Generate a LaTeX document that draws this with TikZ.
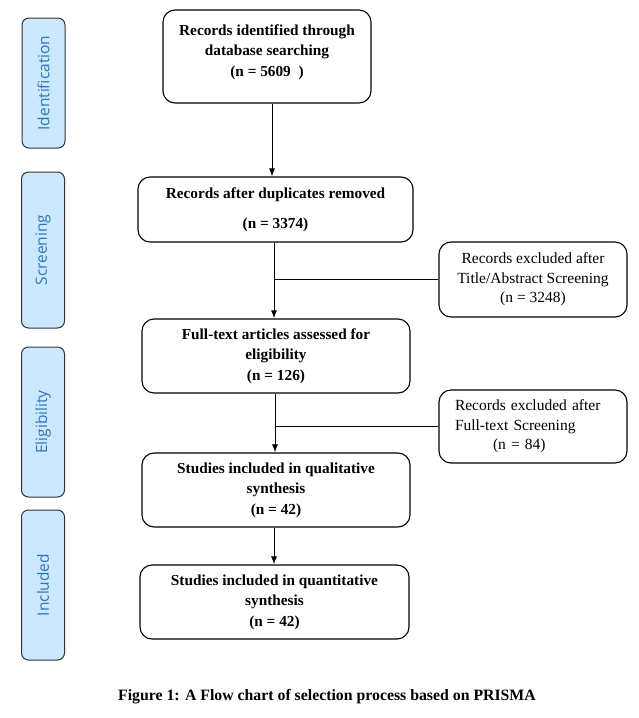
\documentclass[tikz,border=0pt]{standalone}
\usepackage{fontspec}
\setmainfont{Liberation Serif}
\newfontfamily\sidefont{Open Sans}
\usetikzlibrary{arrows.meta}
\definecolor{sidefill}{HTML}{CCE8FF}
\definecolor{sidetext}{HTML}{2E75B6}
\begin{document}
\begin{tikzpicture}[x=1pt,y=-1pt,
  mainbox/.style={draw=black,line width=1.1pt,rounded corners=12pt,align=center,
    font=\fontsize{15.3}{20.5}\selectfont\bfseries,inner sep=2pt},
  maintext/.style={align=center,font=\fontsize{15.3}{20.5}\selectfont\bfseries,inner sep=0pt},
  exbox/.style={draw=black,line width=1.1pt,rounded corners=12pt,align=center,
    font=\fontsize{15.5}{19.5}\selectfont,inner sep=2pt},
  sidebox/.style={draw=black!80,fill=sidefill,line width=1pt,rounded corners=7pt,
    minimum width=43pt},
  sidelabel/.style={text=sidetext,font=\sidefont\fontsize{15.5}{17}\selectfont,rotate=90},
  arr/.style={line width=1pt,-{Latex[length=8pt,width=6pt]}},
  conn/.style={line width=1pt}]
\useasboundingbox (0,0) rectangle (638,718);
% side labels
\node[sidebox,minimum height=130pt] (sid) at (43.5,83) {};
\node[sidelabel] (tid) at (sid.center) {Identification};
\node[sidebox,minimum height=156pt] (sscr) at (43,250) {};
\node[sidelabel] (tscr) at (sscr.center) {Screening};
\node[sidebox,minimum height=150pt] (sel) at (43,422) {};
\node[sidelabel] (tel) at (sel.center) {Eligibility};
\node[sidebox,minimum height=150pt] (sinc) at (43,585) {};
\node[sidelabel] (tinc) at (sinc.center) {Included};
% main boxes
\node[mainbox,minimum width=208pt,minimum height=93pt] (b1) at (267,56.5) {};
\node[maintext] (b1t) at (267,52)
  {Records identified through\\database searching\\(n = 5609\ \ )};
\node[mainbox,minimum width=275pt,minimum height=65pt] (b2) at (275.5,209.5)
  {Records after duplicates removed\\[9pt](n = 3374)};
\node[mainbox,minimum width=268pt,minimum height=74pt] (b3) at (276,356)
  {Full-text articles assessed for\\eligibility\\(n = 126)};
\node[mainbox,minimum width=268pt,minimum height=74pt] (b4) at (276,490)
  {Studies included in qualitative\\synthesis\\(n = 42)};
\node[mainbox,minimum width=269pt,minimum height=74pt] (b5) at (274.5,602)
  {Studies included in quantitative\\synthesis\\(n = 42)};
% exclusion boxes
\node[exbox,minimum width=188pt,minimum height=75pt] (e1) at (533,279.5)
  {Records excluded after\\Title/Abstract Screening\\(n = 3248)};
\node[exbox,minimum width=188pt,minimum height=73pt,align=left,text width=156pt] (e2) at (533,426.5)
  {Records excluded after\\Full-text Screening\\\hspace*{38pt}(n = 84)};
% connectors
\coordinate (c1) at (272,0);
\coordinate (c2) at (274,0);
\coordinate (c3) at (275,0);
\draw[arr] (b1.south -| c1) -- (b2.north -| c1);
\draw[arr] (b2.south -| c2) -- (b3.north -| c2);
\draw[conn] (c2 |- e1.west) -- (e1.west);
\draw[arr] (b3.south -| c3) -- (b4.north -| c3);
\draw[conn] (c3 |- e2.west) -- (e2.west);
\draw[arr] (b4.south -| c2) -- (b5.north -| c2);
% caption
\node[font=\fontsize{15.8}{18}\selectfont\bfseries] (cap) at (327,697)
  {Figure 1: A Flow chart of selection process based on PRISMA};
\end{tikzpicture}
\end{document}
